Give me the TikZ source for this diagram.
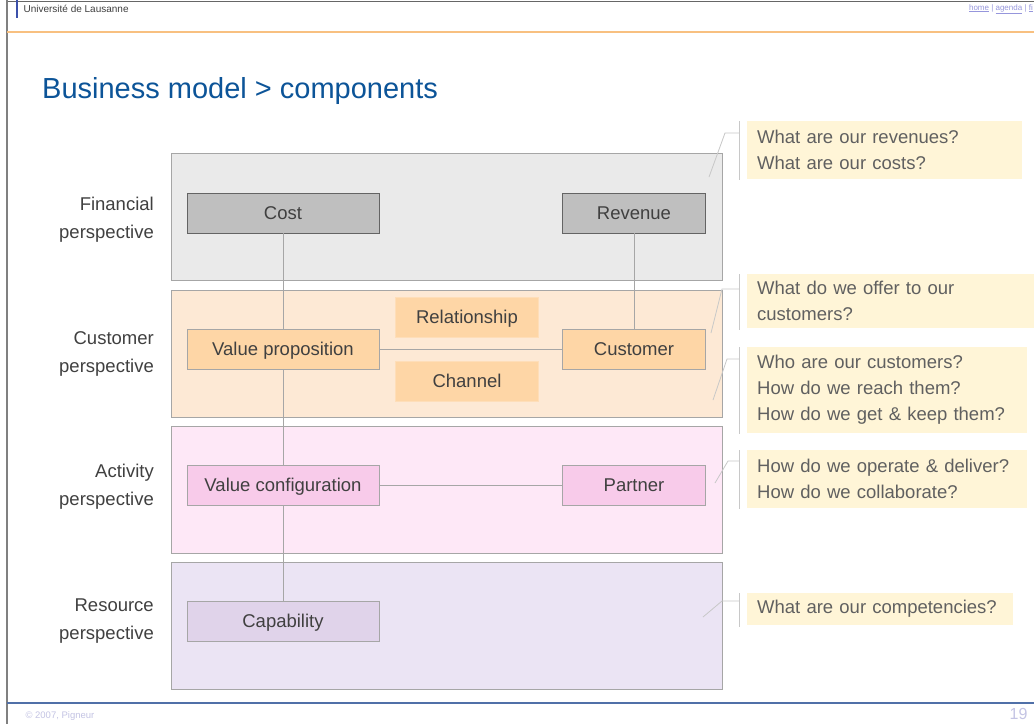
\documentclass[tikz,border=0pt]{standalone}
\usepackage{fontspec}
\setmainfont{Liberation Sans}
\usetikzlibrary{positioning}

\definecolor{titleC}{RGB}{12,84,152}
\definecolor{labelC}{RGB}{64,64,64}
\definecolor{bandLine}{RGB}{166,166,166}
\definecolor{linkC}{RGB}{166,166,166}
\definecolor{leadC}{RGB}{200,200,200}
\definecolor{finFill}{RGB}{234,234,234}
\definecolor{custFill}{RGB}{253,233,213}
\definecolor{actFill}{RGB}{254,232,247}
\definecolor{resFill}{RGB}{235,228,244}
\definecolor{finBox}{RGB}{191,191,191}
\definecolor{finLine}{RGB}{100,100,100}
\definecolor{custBox}{RGB}{254,214,166}
\definecolor{actBox}{RGB}{248,203,234}
\definecolor{resBox}{RGB}{224,211,234}
\definecolor{questFill}{RGB}{255,245,215}
\definecolor{questTxt}{RGB}{96,96,96}
\definecolor{headOrange}{RGB}{248,192,128}
\definecolor{headBlue}{RGB}{60,80,170}
\definecolor{footBlue}{RGB}{80,112,168}
\definecolor{footTxt}{RGB}{196,196,228}
\definecolor{navC}{RGB}{150,150,220}

\newcommand{\boxfont}{\fontsize{18.5}{28}\selectfont}
\newcommand{\questfont}{\fontsize{18.5}{26}\selectfont}

\tikzset{
  band/.style   = {draw=bandLine, line width=0.9pt, anchor=north west,
                   minimum width=551pt, minimum height=127pt, inner sep=0pt},
  comp/.style   = {draw=bandLine, line width=0.9pt, minimum width=192pt,
                   minimum height=40pt, inner sep=0pt, text height=17pt,
                   text depth=3.8pt, font=\boxfont, text=labelC},
  scomp/.style  = {comp, minimum width=143pt},
  persp/.style  = {anchor=east, align=right, inner sep=0pt, font=\boxfont, text=labelC},
  quest/.style  = {fill=questFill, anchor=north west, align=left, inner xsep=10pt,
                   inner ysep=0pt, font=\questfont, text=questTxt},
  link/.style   = {draw=linkC, line width=0.9pt},
  lead/.style   = {draw=leadC, line width=0.8pt}
}

\begin{document}
\begin{tikzpicture}[x=1pt, y=-1pt]
  \useasboundingbox[fill=white] (0,0) rectangle (1034,724);

  %% ── Page frame, header and footer ─────────────────────────────
  \draw[gray!80!black, line width=1pt] (7,1) -- (1034,1);
  \draw[gray, line width=2pt] (7,0) -- (7,724);
  \draw[headBlue, line width=1.5pt] (17,0) -- (17,18);
  \draw[headOrange, line width=2pt] (7,32) -- (1034,32);
  \node[anchor=west, font=\fontsize{10}{12}\selectfont, text=labelC] (uni) at (20,9)
    {Université de Lausanne};
  \node[anchor=east, inner sep=1pt, font=\fontsize{8}{10}\selectfont, text=navC] (nav)
    at (1034,9) {\underline{home} | \underline{agenda} | \underline{fi}};
  \draw[footBlue, line width=2pt] (7,703) -- (1034,703);
  \node[anchor=west, font=\fontsize{9.5}{11}\selectfont, text=footTxt] (copy) at (22,716)
    {© 2007, Pigneur};
  \node[anchor=east, font=\fontsize{16}{18}\selectfont, text=footTxt] (page) at (1031,714)
    {19};

  %% ── Title ─────────────────────────────────────────────────────
  \node[anchor=west, font=\fontsize{29}{34}\selectfont, text=titleC, inner sep=0pt]
    (title) at (42,91) {Business model > components};

  %% ── Perspective bands ─────────────────────────────────────────
  \node[band, fill=finFill]  (fin)  at (171,153) {};
  \node[band, fill=custFill] (cust) at (171,290) {};
  \node[band, fill=actFill]  (act)  at (171,426) {};
  \node[band, fill=resFill]  (res)  at (171,562) {};

  \node[persp] (finlab)  at (154,220) {Financial\\perspective};
  \node[persp] (custlab) at (154,354) {Customer\\perspective};
  \node[persp] (actlab)  at (154,487) {Activity\\perspective};
  \node[persp] (reslab)  at (154,621) {Resource\\perspective};

  %% ── Components ────────────────────────────────────────────────
  \node[comp,  fill=finBox, draw=finLine] (cost)     at (283,213) {Cost};
  \node[scomp, fill=finBox, draw=finLine] (revenue)  at (634,213) {Revenue};
  \node[comp,  fill=custBox] (valprop)  at (283,349) {Value proposition};
  \node[scomp, fill=custBox] (customer) at (634,349) {Customer};
  \node[scomp, fill=custBox, draw=custBox!60!custFill] (relation) at (467,317) {Relationship};
  \node[scomp, fill=custBox, draw=custBox!60!custFill] (channel)  at (467,381) {Channel};
  \node[comp,  fill=actBox]  (valconf)  at (283,485) {Value configuration};
  \node[scomp, fill=actBox]  (partner)  at (634,485) {Partner};
  \node[comp,  fill=resBox]  (capab)    at (283,621) {Capability};

  %% ── Links ─────────────────────────────────────────────────────
  \draw[link] (cost)     -- (valprop);
  \draw[link] (valprop)  -- (valconf);
  \draw[link] (valconf)  -- (capab);
  \draw[link] (revenue)  -- (customer);
  \draw[link] (valprop)  -- (customer);
  \draw[link] (valconf)  -- (partner);

  %% ── Questions ─────────────────────────────────────────────────
  \node[quest, text width=255pt, minimum height=58pt] (q-fin)   at (747,121)
    {What are our revenues?\\What are our costs?};
  \node[quest, text width=267pt, minimum height=54pt] (q-offer) at (747,274)
    {What do we offer to our\\customers?};
  \node[quest, text width=260pt, minimum height=86pt] (q-cust)  at (747,347)
    {Who are our customers?\\How do we reach them?\\How do we get \& keep them?};
  \node[quest, text width=260pt, minimum height=58pt] (q-act)   at (747,450)
    {How do we operate \& deliver?\\How do we collaborate?};
  \node[quest, text width=246pt, minimum height=32pt] (q-res)   at (747,593)
    {What are our competencies?};

  % leader ends inside the bands
  \coordinate (fin-pt)   at (709,177);
  \coordinate (offer-pt) at (711,333);
  \coordinate (cust-pt)  at (713,400);
  \coordinate (act-pt)   at (715,483);
  \coordinate (res-pt)   at (703,617);

  \draw[lead] ([xshift=-8pt]q-fin.north west)   -- ([xshift=-8pt,yshift=-1pt]q-fin.south west);
  \draw[lead] ([xshift=-8pt]q-offer.north west) -- ([xshift=-8pt,yshift=-2pt]q-offer.south west);
  \draw[lead] ([xshift=-8pt]q-cust.north west)  -- ([xshift=-8pt,yshift=-1pt]q-cust.south west);
  \draw[lead] ([xshift=-8pt]q-act.north west)   -- ([xshift=-8pt,yshift=-1pt]q-act.south west);
  \draw[lead] ([xshift=-8pt]q-res.north west)   -- ([xshift=-8pt,yshift=-2pt]q-res.south west);

  \draw[lead] ([xshift=-8pt]q-fin.north west)   ++(0,12) -- ++(-14,0) -- (fin-pt);
  \draw[lead] ([xshift=-8pt]q-offer.north west) ++(0,15) -- ++(-17,0) -- (offer-pt);
  \draw[lead] ([xshift=-8pt]q-cust.north west)  ++(0,12) -- ++(-12,0) -- (cust-pt);
  \draw[lead] ([xshift=-8pt]q-act.north west)   ++(0,11) -- ++(-11,0) -- (act-pt);
  \draw[lead] ([xshift=-8pt]q-res.north west)   ++(0,8)  -- ++(-17,0) -- (res-pt);

\end{tikzpicture}
\end{document}
